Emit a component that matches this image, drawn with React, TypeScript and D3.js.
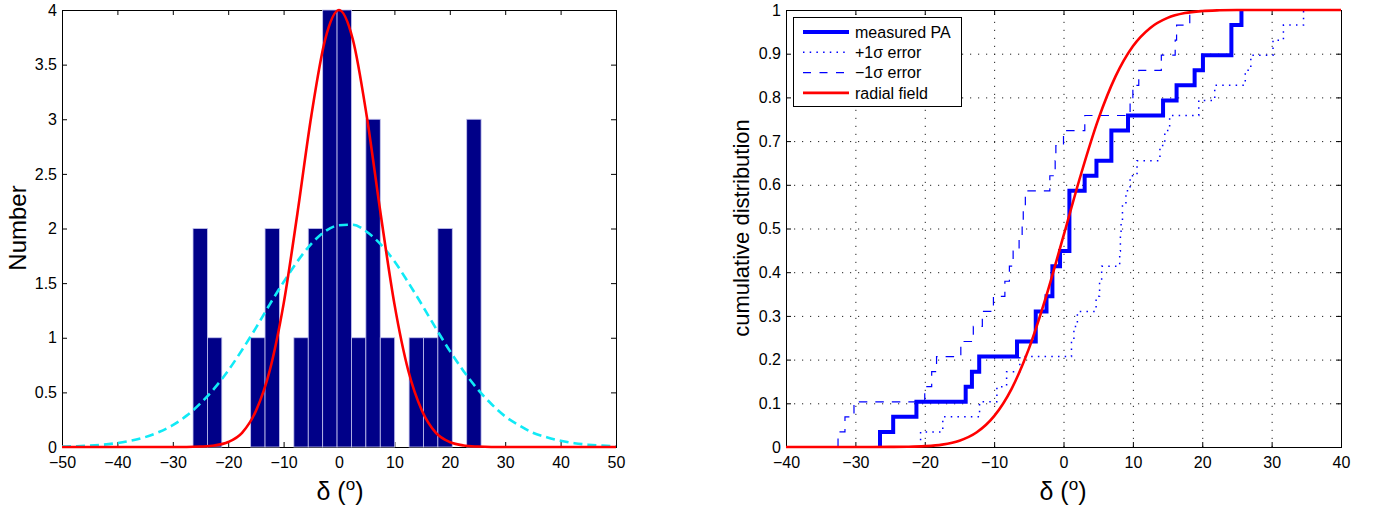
import React, { useEffect, useRef } from "react";
import * as d3 from "d3";

// tick labels
const histXTicks = [-50, -40, -30, -20, -10, 0, 10, 20, 30, 40, 50];
const histYTicks = [0, 0.5, 1, 1.5, 2, 2.5, 3, 3.5, 4];
const cdfXTicks = [-40, -30, -20, -10, 0, 10, 20, 30, 40];
const cdfYTicks = [0, 0.1, 0.2, 0.3, 0.4, 0.5, 0.6, 0.7, 0.8, 0.9, 1];

// histogram of delta (20 bins between min and max)
const binCenters = [
  -25.05, -22.45, -19.85, -17.25, -14.65, -12.05, -9.45, -6.85, -4.25, -1.65,
  0.95, 3.55, 6.15, 8.75, 11.35, 13.95, 16.55, 19.15, 21.75, 24.35,
];
const binCounts = [2, 1, 0, 0, 1, 2, 0, 1, 2, 4, 4, 1, 3, 1, 0, 1, 1, 2, 0, 3];

// curves over the histogram
const gaussX = [
  -50, -47.5, -45, -42.5, -40, -37.5, -35, -32.5, -30, -27.5, -25, -22.5, -20,
  -17.5, -15, -12.5, -10, -7.5, -5, -2.5, 0, 2.5, 5, 7.5, 10, 12.5, 15, 17.5,
  20, 22.5, 25, 27.5, 30, 32.5, 35, 37.5, 40, 42.5, 45, 47.5, 50,
];
const radialCount = [
  0, 0, 0, 0, 0, 0, 0, 0, 0, 0, 0.004, 0.014, 0.046, 0.13, 0.33, 0.7, 1.31,
  2.14, 3.03, 3.73, 4, 3.73, 3.03, 2.14, 1.31, 0.7, 0.33, 0.13, 0.046, 0.014,
  0.004, 0, 0, 0, 0, 0, 0, 0, 0, 0, 0,
];
const fitCount = [
  0.004, 0.0072, 0.0127, 0.0217, 0.036, 0.058, 0.09, 0.137, 0.2, 0.287, 0.4,
  0.536, 0.7, 0.888, 1.09, 1.306, 1.51, 1.7, 1.86, 1.975, 2.03, 2.035, 1.97,
  1.856, 1.7, 1.506, 1.3, 1.085, 0.88, 0.694, 0.53, 0.394, 0.28, 0.198, 0.13,
  0.089, 0.057, 0.035, 0.021, 0.0125, 0.007,
];

// sorted offsets (deg) for the cumulative distributions
const measuredPA = [
  -26.45, -24.55, -21.2, -14.1, -13.2, -12.15, -6.7, -4.0, -4.0, -2.45, -1.6,
  -1.6, -0.5, 0.85, 0.85, 0.85, 0.85, 3.05, 4.75, 6.9, 6.9, 9.3, 14.35, 16.3,
  18.9, 20.1, 24.2, 24.2, 25.65,
];
const plusSigma = [
  -20.6, -17.4, -12.1, -9.6, -8.2, -6.3, 1.15, 1.5, 2.0, 4.7, 5.2, 5.5, 8.1,
  8.2, 8.3, 8.5, 9.0, 9.6, 10.6, 13.9, 14.6, 15.3, 19.5, 21.8, 26.2, 27.0, 30.2,
  31.7, 34.6,
];
const minusSigma = [
  -32.5, -31.5, -30.2, -20.0, -19.0, -18.3, -14.8, -13.0, -11.7, -10.1, -8.45,
  -7.8, -7.26, -6.4, -5.96, -5.8, -5.5, -1.97, -1.2, -1.1, 0.0, 3.07, 9.6, 10.0,
  10.85, 14.1, 16.1, 16.3, 18.2,
];

// radial field model cdf
const cdfX = [
  -40, -37.5, -35, -32.5, -30, -27.5, -25, -22.5, -20, -17.5, -15, -12.5, -10,
  -7.5, -5, -2.5, 0, 2.5, 5, 7.5, 10, 12.5, 15, 17.5, 20, 22.5, 25, 27.5, 30,
  32.5, 35, 37.5, 40,
];
const radialCdf = [
  0, 0, 0, 0, 0, 0, 0.0002, 0.0006, 0.0019, 0.0055, 0.0144, 0.0337, 0.0706,
  0.1326, 0.2245, 0.3446, 0.483, 0.623, 0.749, 0.848, 0.917, 0.959, 0.982,
  0.993, 0.9976, 0.9993, 1, 1, 1, 1, 1, 1, 1,
];

const legendLabels = ["measured PA", "+1\u03c3 error", "\u22121\u03c3 error", "radial field"];

const FONT = "'Liberation Sans', Arial, Helvetica, sans-serif";
const fmt = (d) => (d < 0 ? `\u2212${Math.abs(d)}` : `${d}`);

function frame(g, x, y, xTicks, yTicks) {
  const [xl, xr] = x.range();
  const [yb, yt] = y.range();

  const axes = [
    g.append("g").attr("transform", `translate(0,${yb})`)
      .call(d3.axisBottom(x).tickValues(xTicks).tickSizeInner(-5).tickSizeOuter(0).tickPadding(10).tickFormat(fmt)),
    g.append("g").attr("transform", `translate(0,${yt})`)
      .call(d3.axisTop(x).tickValues(xTicks).tickSizeInner(-5).tickSizeOuter(0).tickFormat(() => "")),
    g.append("g").attr("transform", `translate(${xl},0)`)
      .call(d3.axisLeft(y).tickValues(yTicks).tickSizeInner(-5).tickSizeOuter(0).tickPadding(5).tickFormat(fmt)),
    g.append("g").attr("transform", `translate(${xr},0)`)
      .call(d3.axisRight(y).tickValues(yTicks).tickSizeInner(-5).tickSizeOuter(0).tickFormat(() => "")),
  ];
  axes.forEach((a) => {
    a.select(".domain").remove();
    a.attr("font-size", 16).attr("font-family", FONT);
    a.selectAll("line").attr("stroke", "#000");
  });

  g.append("rect")
    .attr("x", xl + 0.5)
    .attr("y", yt + 0.5)
    .attr("width", xr - xl)
    .attr("height", yb - yt)
    .attr("fill", "none")
    .attr("stroke", "#000");
}

function deltaLabel(g, cx, y) {
  const t = g.append("text")
    .attr("x", cx)
    .attr("y", y)
    .attr("text-anchor", "middle")
    .attr("font-family", FONT)
    .attr("font-size", 25);
  t.append("tspan").text("\u03b4 (");
  t.append("tspan").attr("dy", -10).attr("font-size", 17).text("o");
  t.append("tspan").attr("dy", 10).text(")");
}

function yLabel(g, x, cy, label, size) {
  g.append("text")
    .attr("transform", `translate(${x},${cy}) rotate(-90)`)
    .attr("text-anchor", "middle")
    .attr("font-family", FONT)
    .attr("font-size", size)
    .text(label);
}

const App = () => {
  const svgRef = useRef(null);

  useEffect(() => {
    const svg = d3.select(svgRef.current);
    svg.selectAll("*").remove();

    // ---------- left: histogram ----------
    const g1 = svg.append("g");
    const x1 = d3.scaleLinear().domain([-50, 50]).range([62, 616]);
    const y1 = d3.scaleLinear().domain([0, 4]).range([447, 10]);
    const bw = binCenters[1] - binCenters[0];

    frame(g1, x1, y1, histXTicks, histYTicks);

    g1.append("g")
      .selectAll("rect")
      .data(binCenters.map((c, i) => ({ c, n: binCounts[i] })).filter((d) => d.n > 0))
      .join("rect")
      .attr("x", (d) => x1(d.c - bw / 2))
      .attr("width", (d) => x1(d.c + bw / 2) - x1(d.c - bw / 2))
      .attr("y", (d) => y1(d.n))
      .attr("height", (d) => y1(0) - y1(d.n))
      .attr("fill", "#000088")
      .attr("stroke", "#c4c4ee")
      .attr("stroke-width", 0.8);

    const curve1 = d3.line()
      .x((d) => x1(d[0]))
      .y((d) => y1(d[1]))
      .curve(d3.curveMonotoneX);

    g1.append("path")
      .datum(gaussX.map((v, i) => [v, fitCount[i]]))
      .attr("d", curve1)
      .attr("fill", "none")
      .attr("stroke", "#10eaf6")
      .attr("stroke-width", 2.6)
      .attr("stroke-dasharray", "9,5");

    g1.append("path")
      .datum(gaussX.map((v, i) => [v, radialCount[i]]))
      .attr("d", curve1)
      .attr("fill", "none")
      .attr("stroke", "#ff0000")
      .attr("stroke-width", 2.6);

    deltaLabel(g1, 340, 500);
    yLabel(g1, 26, 228, "Number", 24);

    // ---------- right: cumulative distribution ----------
    const g2 = svg.append("g");
    const x2 = d3.scaleLinear().domain([-40, 40]).range([786, 1341]);
    const y2 = d3.scaleLinear().domain([0, 1]).range([447, 10]);
    const h2 = 447 - 10;

    // dotted grid
    const gx = g2.append("g").attr("transform", "translate(0,447)")
      .call(d3.axisBottom(x2).tickValues(cdfXTicks).tickSize(-h2).tickFormat(() => ""));
    const gy = g2.append("g").attr("transform", "translate(786,0)")
      .call(d3.axisLeft(y2).tickValues(cdfYTicks).tickSize(-(1341 - 786)).tickFormat(() => ""));
    [gx, gy].forEach((a) => {
      a.select(".domain").remove();
      a.selectAll("line").attr("stroke", "#222").attr("stroke-dasharray", "1.2,6.8");
    });

    frame(g2, x2, y2, cdfXTicks, cdfYTicks);

    const step = d3.line()
      .x((d) => x2(d[0]))
      .y((d) => y2(d[1]))
      .curve(d3.curveStepAfter);
    const cdfPoints = (vals) => [[vals[0], 0], ...vals.map((v, i) => [v, (i + 1) / vals.length])];

    const series = [
      { vals: measuredPA, width: 4, dash: null },
      { vals: plusSigma, width: 1.5, dash: "1.5,5.2" },
      { vals: minusSigma, width: 1.2, dash: "8.5,8" },
    ];
    series.forEach((s) => {
      g2.append("path")
        .datum(cdfPoints(s.vals))
        .attr("d", step)
        .attr("fill", "none")
        .attr("stroke", "#0000ff")
        .attr("stroke-width", s.width)
        .attr("stroke-dasharray", s.dash);
    });

    g2.append("path")
      .datum(cdfX.map((v, i) => [v, radialCdf[i]]))
      .attr("d", d3.line().x((d) => x2(d[0])).y((d) => y2(d[1])).curve(d3.curveMonotoneX))
      .attr("fill", "none")
      .attr("stroke", "#ff0000")
      .attr("stroke-width", 2.6);

    // legend
    const lg = g2.append("g");
    lg.append("rect")
      .attr("x", 793.5)
      .attr("y", 17.5)
      .attr("width", 168)
      .attr("height", 89)
      .attr("fill", "#fff")
      .attr("stroke", "#000");
    const styles = [
      { color: "#0000ff", width: 4, dash: null },
      { color: "#0000ff", width: 1.5, dash: "1.5,5.2" },
      { color: "#0000ff", width: 1.2, dash: "8,8.5" },
      { color: "#ff0000", width: 2.6, dash: null },
    ];
    legendLabels.forEach((label, i) => {
      const yy = 32 + i * 20.3;
      lg.append("line")
        .attr("x1", 803)
        .attr("x2", 849)
        .attr("y1", yy)
        .attr("y2", yy)
        .attr("stroke", styles[i].color)
        .attr("stroke-width", styles[i].width)
        .attr("stroke-dasharray", styles[i].dash);
      lg.append("text")
        .attr("x", 855)
        .attr("y", yy)
        .attr("dy", "0.35em")
        .attr("font-family", FONT)
        .attr("font-size", 16)
        .text(label);
    });

    deltaLabel(g2, 1063, 500);
    yLabel(g2, 749, 228, "cumulative distribution", 22);
  }, []);

  return (
    <div style={{ position: "absolute", left: 0, top: 0 }}>
      <svg ref={svgRef} width={1373} height={508} style={{ display: "block", background: "#fff" }} />
    </div>
  );
};

export default App;
